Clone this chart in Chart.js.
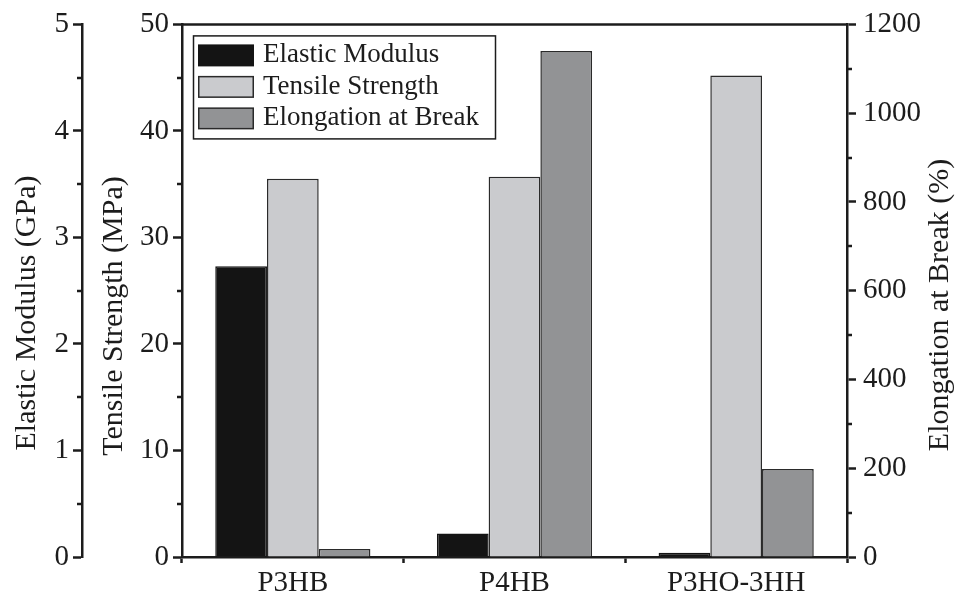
<!DOCTYPE html>
<html>
<head>
<meta charset="utf-8">
<script src="https://cdn.jsdelivr.net/npm/chart.js@4.4.1/dist/chart.umd.min.js"></script>
<style>
  html, body { margin: 0; padding: 0; background: #fff; }
  #wrap { width: 961px; height: 595px; }
</style>
</head>
<body>
<div id="wrap"><canvas id="chart" width="961" height="595"></canvas></div>
<script>
const samples = ['P3HB', 'P4HB', 'P3HO-3HH'];
const elasticModulus = [2.73, 0.22, 0.04];   // GPa
const tensileStrength = [35.5, 35.7, 45.2];  // MPa
const elongationAtBreak = [18, 1140, 198];   // %
const seriesNames = ['Elastic Modulus', 'Tensile Strength', 'Elongation at Break'];
const axisTitles = ['Elastic Modulus (GPa)', 'Tensile Strength (MPa)', 'Elongation at Break (%)'];
// [min, max, major step]
const modulusRange = [0, 5, 1];
const strengthRange = [0, 50, 10];
const elongationRange = [0, 1200, 200];

const FONT = '"Liberation Serif", "Times New Roman", serif';
const INK = '#1c1c1c';

function yAxis(position, range, weight, width, padding) {
  return {
    type: 'linear',
    position,
    weight,
    min: range[0],
    max: range[1],
    afterFit: (s) => { s.width = width; },
    grid: { drawOnChartArea: false, tickLength: 9, tickWidth: 2.5, tickColor: INK },
    border: { display: true, color: INK, width: 2.5 },
    ticks: {
      stepSize: range[2],
      padding,
      color: INK,
      font: { family: FONT, size: 29 },
      callback: (v) => String(v),
    },
    title: { display: false },
  };
}

// half-step ticks, drawn through each y scale
const minorTicks = {
  id: 'minorTicks',
  afterDraw(chart) {
    const ctx = chart.ctx;
    ctx.save();
    ctx.strokeStyle = INK;
    ctx.lineWidth = 2.5;
    for (const id of ['yEM', 'yTS', 'yEB']) {
      const s = chart.scales[id];
      const step = s.options.ticks.stepSize;
      const left = s.position === 'left';
      const x0 = left ? s.right : s.left;
      const dir = left ? -1 : 1;
      for (let v = s.min + step / 2; v < s.max; v += step) {
        const y = Math.round(s.getPixelForValue(v));
        ctx.beginPath();
        ctx.moveTo(x0, y);
        ctx.lineTo(x0 + dir * 5, y);
        ctx.stroke();
      }
    }
    // top frame line
    const a = chart.chartArea;
    ctx.beginPath();
    ctx.moveTo(a.left, a.top);
    ctx.lineTo(a.right, a.top);
    ctx.stroke();
    ctx.restore();
  },
};

// rotated titles, all reading bottom to top
const axisTitlePlugin = {
  id: 'axisTitlePlugin',
  afterDraw(chart) {
    const ctx = chart.ctx;
    const spots = [[27, 313], [114, 316], [940, 305]];
    ctx.save();
    ctx.fillStyle = INK;
    ctx.font = '30px ' + FONT;
    ctx.textAlign = 'center';
    ctx.textBaseline = 'middle';
    axisTitles.forEach((t, i) => {
      ctx.save();
      ctx.translate(spots[i][0], spots[i][1]);
      ctx.rotate(-Math.PI / 2);
      ctx.fillText(t, 0, 0);
      ctx.restore();
    });
    ctx.restore();
  },
};

const boxLegend = {
  id: 'boxLegend',
  afterDraw(chart) {
    const { ctx, chartArea } = chart;
    const bx = chartArea.left + 11;
    const by = chartArea.top + 11;
    ctx.save();
    ctx.strokeStyle = INK;
    ctx.lineWidth = 1.5;
    ctx.strokeRect(bx + 0.5, by + 0.5, 302, 103);
    ctx.font = '27px ' + FONT;
    ctx.textBaseline = 'middle';
    chart.data.datasets.forEach((ds, i) => {
      const sy = by + 9 + i * 31.5;
      ctx.fillStyle = ds.borderColor;
      ctx.fillRect(bx + 5, sy, 56, 22);
      ctx.fillStyle = ds.backgroundColor;
      ctx.fillRect(bx + 6.5, sy + 1.5, 53, 19);
      ctx.fillStyle = INK;
      ctx.fillText(ds.label, bx + 70, sy + 11);
    });
    ctx.restore();
  },
};

new Chart(document.getElementById('chart'), {
  type: 'bar',
  data: {
    labels: samples,
    datasets: [
      { label: seriesNames[0], data: elasticModulus, yAxisID: 'yEM', backgroundColor: '#141414', borderColor: '#141414', borderWidth: 1.5 },
      { label: seriesNames[1], data: tensileStrength, yAxisID: 'yTS', backgroundColor: '#cacbce', borderColor: '#2a2a2a', borderWidth: 1.5 },
      { label: seriesNames[2], data: elongationAtBreak, yAxisID: 'yEB', backgroundColor: '#929395', borderColor: '#2a2a2a', borderWidth: 1.5 },
    ],
  },
  options: {
    responsive: false,
    animation: false,
    devicePixelRatio: 1,
    layout: { padding: { top: 23, left: 0, right: 0, bottom: 0 } },
    datasets: { bar: { categoryPercentage: 0.7, barPercentage: 1.0 } },
    plugins: { legend: { display: false }, tooltip: { enabled: false } },
    scales: {
      x: {
        afterFit: (s) => { s.height = 38; },
        grid: { offset: true, drawOnChartArea: false, tickLength: 6, tickWidth: 2.5, tickColor: INK },
        border: { display: true, color: INK, width: 2.5 },
        ticks: { color: INK, padding: 3, font: { family: FONT, size: 29 } },
      },
      yTS: yAxis('left', strengthRange, 0, 100, 4),
      yEM: yAxis('left', modulusRange, 1, 82, 4),
      yEB: yAxis('right', elongationRange, 0, 114, 7),
    },
  },
  plugins: [minorTicks, axisTitlePlugin, boxLegend],
});
</script>
</body>
</html>
